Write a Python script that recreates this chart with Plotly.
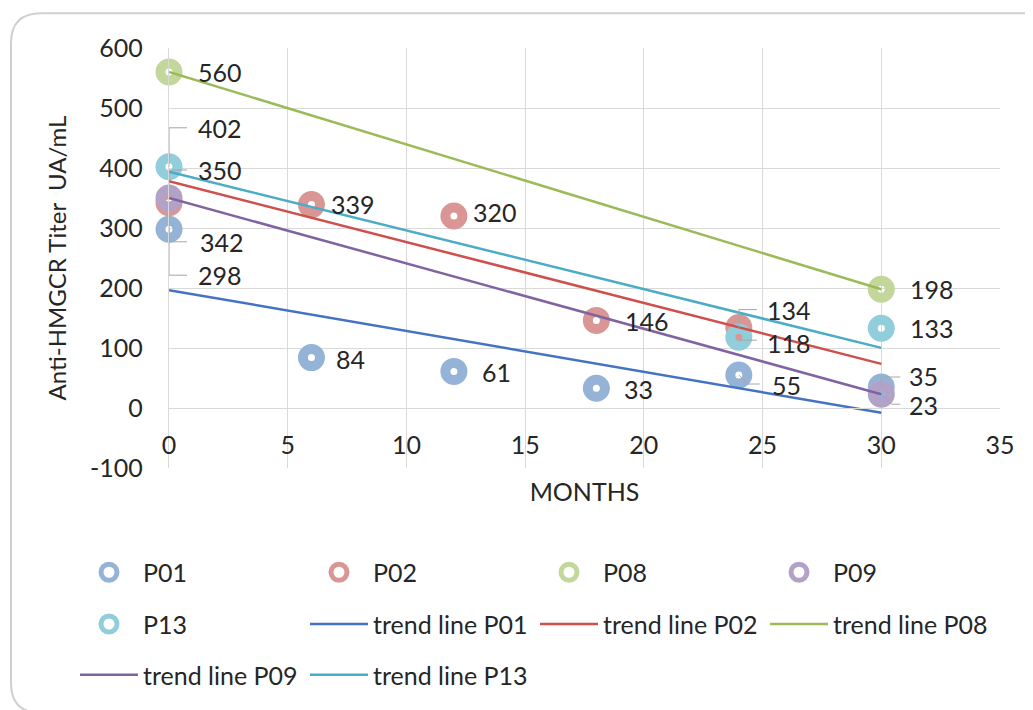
import numpy as np
import plotly.graph_objects as go

# ---------------- data ----------------
series_names = ["P01", "P02", "P08", "P09", "P13"]
P01_months = [0, 6, 12, 18, 24, 30]
P01_titer = [298, 84, 61, 33, 55, 35]
P02_months = [0, 6, 12, 18, 24]
P02_titer = [342, 339, 320, 146, 134]
P08_months = [0, 30]
P08_titer = [560, 198]
P09_months = [0, 30]
P09_titer = [350, 23]
P13_months = [0, 24, 30]
P13_titer = [402, 118, 133]
trend_span = [0, 30]
y_ticks = [-100, 0, 100, 200, 300, 400, 500, 600]
x_ticks = [0, 5, 10, 15, 20, 25, 30, 35]

data = {
    "P01": (P01_months, P01_titer),
    "P02": (P02_months, P02_titer),
    "P08": (P08_months, P08_titer),
    "P09": (P09_months, P09_titer),
    "P13": (P13_months, P13_titer),
}

# ---------------- styles ----------------
marker_colors = {"P01": "#95B3D7", "P02": "#DA9694", "P08": "#C4D79B",
                 "P09": "#B3A2C7", "P13": "#92CDDC"}
line_colors = {"P01": "#4472C4", "P02": "#CF4F4C", "P08": "#9BBB59",
               "P09": "#8064A2", "P13": "#4BACC6"}
FONT = "Lato, sans-serif"
FS = 25
TXT = "#262626"
GRID = "#D9D9D9"

# label offsets (pixels, y up) and optional leader path for each point
default_off = (27, 0, None)
label_off = {
    ("P13", 0): (27, 39, "M0,0 V39 H18"),
    ("P09", 0): (27, 28, "M0,0 V28 H18"),
    ("P02", 0): (29, -39, "M0,0 V-39 H18"),
    ("P01", 0): (27, -46, "M0,0 V-46 H18"),
    ("P02", 1): (18, 1, None),
    ("P01", 1): (23, -1, None),
    ("P02", 2): (17, 4, None),
    ("P01", 2): (26, -1, None),
    ("P02", 3): (27, -1, None),
    ("P01", 3): (26, -1, None),
    ("P02", 4): (26, 18, "M0,0 V18 H18"),
    ("P13", 1): (26, -6, "M0,-3 H18"),
    ("P01", 4): (31, -10, "M0,0 L9,-9 H21"),
    ("P01", 5): (26, 11, "M0,0 V10 H19"),
    ("P09", 1): (26, -11, "M0,0 L10,-10 H19"),
}

# page offset (browser body margin) -> convert screen targets to figure pixels
OFF = 8
FIG_W, FIG_H = 1033 - OFF, 710 - OFF
L, R, T, B = 169 - OFF, 1000 - OFF, 48 - OFF, 470 - OFF
W, H = R - L, B - T


def px(x):
    return (x - OFF - L) / W


def py(y):
    return (B - (y - OFF)) / H


fig = go.Figure()

legend_of = {"P01": "legend", "P02": "legend", "P08": "legend", "P09": "legend",
             "P13": "legend2"}
trend_legend_of = {"P01": "legend2", "P02": "legend2", "P08": "legend2",
                   "P09": "legend3", "P13": "legend3"}

# markers
for name in series_names:
    xs, ys = data[name]
    fig.add_trace(go.Scatter(
        x=xs, y=ys, mode="markers", name=name, legend=legend_of[name],
        marker=dict(symbol="circle-open", size=17, color=marker_colors[name],
                    line=dict(width=10, color=marker_colors[name])),
        cliponaxis=False,
    ))

# trend lines (least squares fit of each series)
for name in series_names:
    xs, ys = data[name]
    slope, intercept = np.polyfit(xs, ys, 1)
    tx = np.array(trend_span, dtype=float)
    fig.add_trace(go.Scatter(
        x=tx, y=slope * tx + intercept, mode="lines", name="trend line " + name,
        legend=trend_legend_of[name],
        line=dict(color=line_colors[name], width=2.5),
    ))

# data labels and leader lines
annotations = []
shapes = []
for name in series_names:
    xs, ys = data[name]
    for i, (xv, yv) in enumerate(zip(xs, ys)):
        dx, dy, path = label_off.get((name, i), default_off)
        annotations.append(dict(
            x=xv, y=yv, xref="x", yref="y", text=str(yv), showarrow=False,
            xanchor="left", yanchor="middle", xshift=dx, yshift=dy,
            font=dict(family=FONT, size=FS, color=TXT),
        ))
        if path:
            shapes.append(dict(
                type="path", xref="x", yref="y", xsizemode="pixel", ysizemode="pixel",
                xanchor=xv, yanchor=yv, path=path, layer="above",
                line=dict(color="#A6A6A6", width=1),
            ))

# outer rounded chart border (screen pixel geometry converted to paper coords)
bx0, bx1, by0, by1, r = 11, 1052, 13, 716, 30
border = (f"M{px(bx0)},{py(by0 + r)} Q{px(bx0)},{py(by0)} {px(bx0 + r)},{py(by0)} "
          f"L{px(bx1 - r)},{py(by0)} Q{px(bx1)},{py(by0)} {px(bx1)},{py(by0 + r)} "
          f"L{px(bx1)},{py(by1 - r)} Q{px(bx1)},{py(by1)} {px(bx1 - r)},{py(by1)} "
          f"L{px(bx0 + r)},{py(by1)} Q{px(bx0)},{py(by1)} {px(bx0)},{py(by1 - r)} Z")
shapes.append(dict(type="path", xref="paper", yref="paper", path=border, layer="below",
                   line=dict(color="#D0D0D0", width=2)))

legend_common = dict(orientation="h", xanchor="left", yanchor="middle",
                     entrywidth=157, entrywidthmode="pixels", itemwidth=58,
                     font=dict(family=FONT, size=FS, color=TXT),
                     bgcolor="rgba(0,0,0,0)", tracegroupgap=0)

fig.update_layout(
    width=FIG_W, height=FIG_H,
    margin=dict(l=L, r=FIG_W - R, t=T, b=FIG_H - B),
    paper_bgcolor="white", plot_bgcolor="white",
    font=dict(family=FONT, size=FS, color=TXT),
    showlegend=True,
    legend=dict(x=px(75), y=py(575), **legend_common),
    legend2=dict(x=px(75), y=py(627), **legend_common),
    legend3=dict(x=px(75), y=py(678), **legend_common),
    xaxis=dict(range=[0, 35], tickvals=x_ticks, ticktext=[str(v) for v in x_ticks],
               showgrid=True, gridcolor=GRID, gridwidth=1.3,
               zeroline=False, showline=True, linecolor=GRID, linewidth=1.3,
               anchor="free", position=(0 - y_ticks[0]) / (y_ticks[-1] - y_ticks[0]),
               ticks="", ticklabelstandoff=15,
               tickfont=dict(family=FONT, size=FS, color=TXT),
               title=dict(text="MONTHS", standoff=25, font=dict(family=FONT, size=FS, color=TXT))),
    yaxis=dict(range=[y_ticks[0], y_ticks[-1]], tickvals=y_ticks,
               ticktext=[str(v) for v in y_ticks], showgrid=True, gridcolor=GRID,
               gridwidth=1.3, zeroline=False, showline=True, linecolor=GRID, linewidth=1.3,
               ticks="", ticklabelstandoff=20,
               tickfont=dict(family=FONT, size=FS, color=TXT),
               title=dict(text="Anti-HMGCR Titer  UA/mL", standoff=16,
                          font=dict(family=FONT, size=24, color=TXT))),
    annotations=annotations,
    shapes=shapes,
)

fig.write_html("out.html")
